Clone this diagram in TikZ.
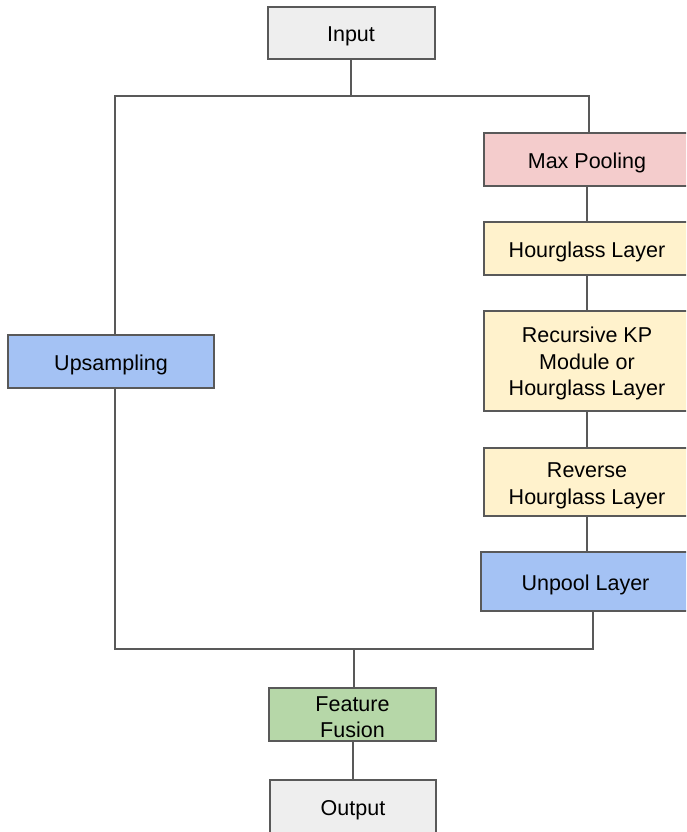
\documentclass[tikz,border=0pt]{standalone}
\usepackage{fontspec}
\setmainfont{Liberation Sans}
\definecolor{edgec}{HTML}{595959}
\definecolor{grayf}{HTML}{EEEEEE}
\definecolor{pinkf}{HTML}{F4CCCC}
\definecolor{yellf}{HTML}{FFF2CC}
\definecolor{bluef}{HTML}{A4C2F4}
\definecolor{greenf}{HTML}{B6D7A8}
\newcommand\boxfont{\fontsize{21.5}{26.5}\selectfont}
\newcommand\tstrut{\rule[-4pt]{0pt}{26pt}}
\newcommand\topstrutA{\rule{0pt}{20.5pt}}
\newcommand\topstrutB{\rule{0pt}{22.5pt}}
\begin{document}
\begin{tikzpicture}[x=1pt,y=-1pt,
  box/.style={draw=edgec, line width=2pt, inner sep=0pt, align=center, font=\boxfont, text=black},
  conn/.style={draw=edgec, line width=2pt}]
\useasboundingbox (0,0) rectangle (686,832);
\clip (0,0) rectangle (686,832);
\fill[white] (0,0) rectangle (686,832);
\node[box, fill=grayf, minimum width=167pt, minimum height=52pt] (input) at (351,33) {\tstrut Input};
\node[box, fill=pinkf, minimum width=206pt, minimum height=53pt] (maxp) at (587,159.5) {\tstrut Max Pooling};
\node[box, fill=yellf, minimum width=206pt, minimum height=53pt] (hg) at (587,248.5) {\tstrut Hourglass Layer};
\node[box, fill=yellf, minimum width=206pt, minimum height=100pt] (rec) at (587,361) {\topstrutA Recursive KP\\Module or\\Hourglass Layer};
\node[box, fill=yellf, minimum width=206pt, minimum height=68pt] (rev) at (587,482) {\topstrutB Reverse\\Hourglass Layer};
\node[box, fill=bluef, minimum width=209pt, minimum height=59pt] (unpool) at (585.5,581.5) {\tstrut Unpool Layer};
\node[box, fill=bluef, minimum width=206pt, minimum height=53pt] (up) at (111,361.5) {\tstrut Upsampling};
\node[box, fill=greenf, minimum width=167pt, minimum height=53pt] (ff) at (352.5,714.5) {\topstrutA Feature\\Fusion};
\node[box, fill=grayf, minimum width=166pt, minimum height=53pt] (out) at (353,806.5) {\tstrut Output};
\coordinate (tl) at (115,96);
\coordinate (tm) at (351,96);
\coordinate (tr) at (589,96);
\coordinate (bl) at (115,649);
\coordinate (bm) at (354,649);
\coordinate (br) at (593,649);
\draw[conn] (input.south) -- (tm);
\draw[conn] (up.north -| tl) -- (tl) -- (tr) -- (tr |- maxp.north);
\draw[conn] (maxp.south) -- (hg.north);
\draw[conn] (hg.south) -- (rec.north);
\draw[conn] (rec.south) -- (rev.north);
\draw[conn] (rev.south) -- (rev.south |- unpool.north);
\draw[conn] (unpool.south -| br) -- (br) -- (bl) -- (up.south -| bl);
\draw[conn] (bm) -- (bm |- ff.north);
\draw[conn] (ff.south) -- (ff.south |- out.north);
\end{tikzpicture}
\end{document}
